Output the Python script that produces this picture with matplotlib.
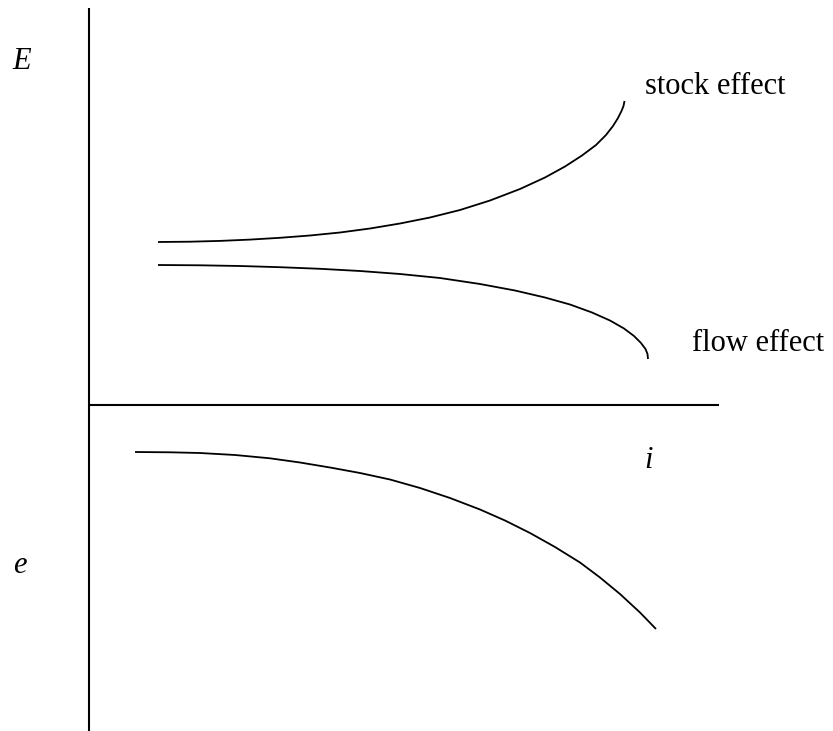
import matplotlib
matplotlib.use("Agg")
import matplotlib.pyplot as plt

# Curves (pixel-like coordinates, y downward)
stock_x = [158, 190, 220, 250, 280, 310, 340, 370, 400, 430, 460, 490, 520, 545, 565,
           582, 596, 606, 613, 618, 621.5, 623.5, 624.5]
stock_y = [242.0, 241.7, 240.9, 239.6, 237.8, 235.5, 232.5, 228.5, 223.5, 217.5, 210.0,
           200.5, 189.0, 177.5, 166.5, 155.5, 145.0, 135.0, 126.0, 118.0, 111.0, 106.0, 101.0]

flow_x = [158, 200, 240, 280, 320, 360, 400, 440, 480, 515, 545, 570, 592, 610, 624,
          634, 641, 645.5, 647.5, 648]
flow_y = [265.0, 265.3, 266.0, 267.2, 268.8, 271.0, 274.0, 278.0, 284.0, 290.5, 297.5,
          304.5, 312.5, 320.5, 328.5, 336.0, 343.0, 349.0, 354.0, 359.0]

lower_x = [135, 170, 200, 235, 270, 300, 330, 360, 390, 420, 450, 480, 505, 530, 555,
           580, 600, 620, 640, 656]
lower_y = [452.0, 452.3, 453.0, 455.0, 458.3, 462.5, 467.5, 473.0, 479.5, 488.0, 498.0,
           509.5, 520.5, 533.0, 547.0, 562.5, 577.5, 594.0, 612.5, 629.0]

labels = {"stock": "stock effect", "flow": "flow effect", "E": "E", "e": "e", "i": "i"}

W, H = 833, 731
fig = plt.figure(figsize=(W / 100, H / 100), dpi=100)
ax = fig.add_axes([0, 0, 1, 1])
ax.set_xlim(0, W)
ax.set_ylim(H, 0)
ax.axis("off")

# axes lines
ax.plot([89, 89], [8, 731], color="black", lw=1.5, solid_capstyle="butt")
ax.plot([89, 719], [405, 405], color="black", lw=1.5, solid_capstyle="butt")

for xs, ys in [(stock_x, stock_y), (flow_x, flow_y), (lower_x, lower_y)]:
    ax.plot(xs, ys, color="black", lw=1.3, solid_capstyle="butt", solid_joinstyle="round")

font = "Liberation Serif"
fs = 22
ax.text(645, 94, labels["stock"], fontsize=fs, family=font, ha="left", va="baseline")
ax.text(692, 351, labels["flow"], fontsize=fs, family=font, ha="left", va="baseline")
ax.text(12, 69, labels["E"], fontsize=fs, family=font, style="italic", ha="left", va="baseline")
ax.text(13, 573, labels["e"], fontsize=fs, family=font, style="italic", ha="left", va="baseline")
ax.text(644, 468, labels["i"], fontsize=fs, family=font, style="italic", ha="left", va="baseline")

fig.savefig("out.png", dpi=100)
